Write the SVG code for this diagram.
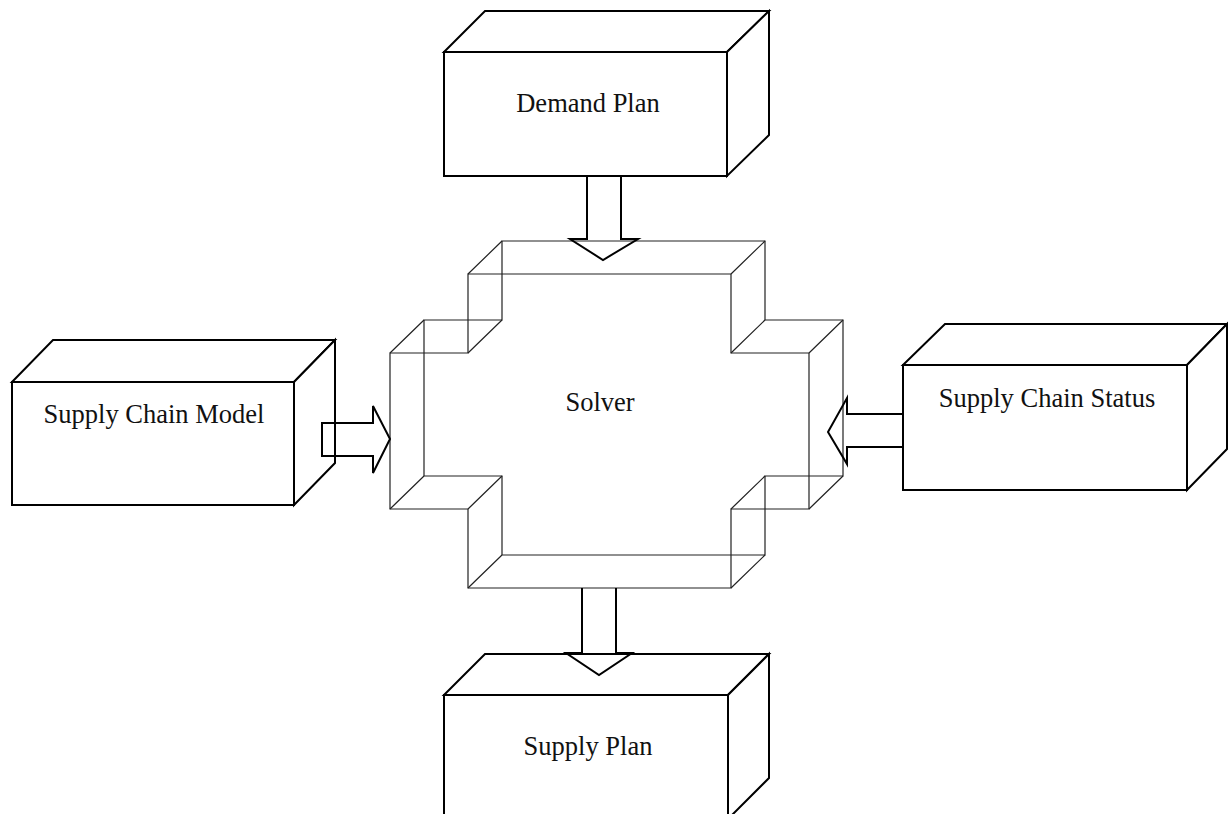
<svg xmlns="http://www.w3.org/2000/svg" width="1228" height="814" viewBox="0 0 1228 814">
  <style>
    .face { fill: #fff; stroke: #000; stroke-width: 2; stroke-linejoin: miter; }
    .label { font-family: "Liberation Serif", "Times New Roman", serif; font-size: 26.5px; fill: #111; text-anchor: middle; }
    .wire { fill: none; stroke: #222; stroke-width: 1.2; }
    .flow { fill: none; stroke: #000; stroke-width: 2; stroke-linejoin: miter; }
  </style>
  <rect width="1228" height="814" fill="#fff"/>

  <!-- Solver: transparent cross-shaped prism (front outline, back outline, depth edges) -->
  <g id="solver">
    <path class="wire" d="M468,274 H731 V353 H809 V509 H731 V588 H468 V509 H390 V353 H468 Z"/>
    <path class="wire" d="M502,241 H765 V320 H843 V476 H765 V555 H502 V476 H424 V320 H502 Z"/>
    <path class="wire" d="M468,274 L502,241 M731,274 L765,241 M731,353 L765,320 M809,353 L843,320 M809,509 L843,476 M731,509 L765,476 M731,588 L765,555 M468,588 L502,555 M468,509 L502,476 M390,509 L424,476 M390,353 L424,320 M468,353 L502,320"/>
    <text class="label" x="600" y="411">Solver</text>
  </g>

  <g id="demand-plan">
    <polygon class="face" points="444,52 485,11 769,11 727,52"/>
    <polygon class="face" points="727,52 769,11 769,135 727,176"/>
    <rect class="face" x="444" y="52" width="283" height="124"/>
    <text class="label" x="588" y="112">Demand Plan</text>
  </g>

  <g id="supply-chain-model">
    <polygon class="face" points="12,382 53,340 335,340 294,382"/>
    <polygon class="face" points="294,382 335,340 335,463 294,505"/>
    <rect class="face" x="12" y="382" width="282" height="123"/>
    <text class="label" x="154" y="423">Supply Chain Model</text>
  </g>

  <g id="supply-chain-status">
    <polygon class="face" points="903,365 945,324 1227,324 1187,365"/>
    <polygon class="face" points="1187,365 1227,324 1227,449 1187,490"/>
    <rect class="face" x="903" y="365" width="284" height="125"/>
    <text class="label" x="1047" y="407">Supply Chain Status</text>
  </g>

  <g id="supply-plan">
    <polygon class="face" points="444,695 485,654 769,654 728,695"/>
    <polygon class="face" points="728,695 769,654 769,778 728,819"/>
    <rect class="face" x="444" y="695" width="284" height="124"/>
    <text class="label" x="588" y="755">Supply Plan</text>
  </g>

  <!-- Block arrows between the stores and the solver -->
  <g id="connectors">
    <path class="flow" d="M587,176 V239 H570 L603,260 L638,239 H621 V176"/>
    <path class="flow" d="M322,423 H373 V406 L390,439 L373,473 V456 H322 Z"/>
    <path class="flow" d="M903,414 H847 V398 L828,432 L847,464 V447 H903"/>
    <path class="flow" d="M582,588 V653 H566 L599,675 L632,653 H616 V588"/>
  </g>
</svg>
